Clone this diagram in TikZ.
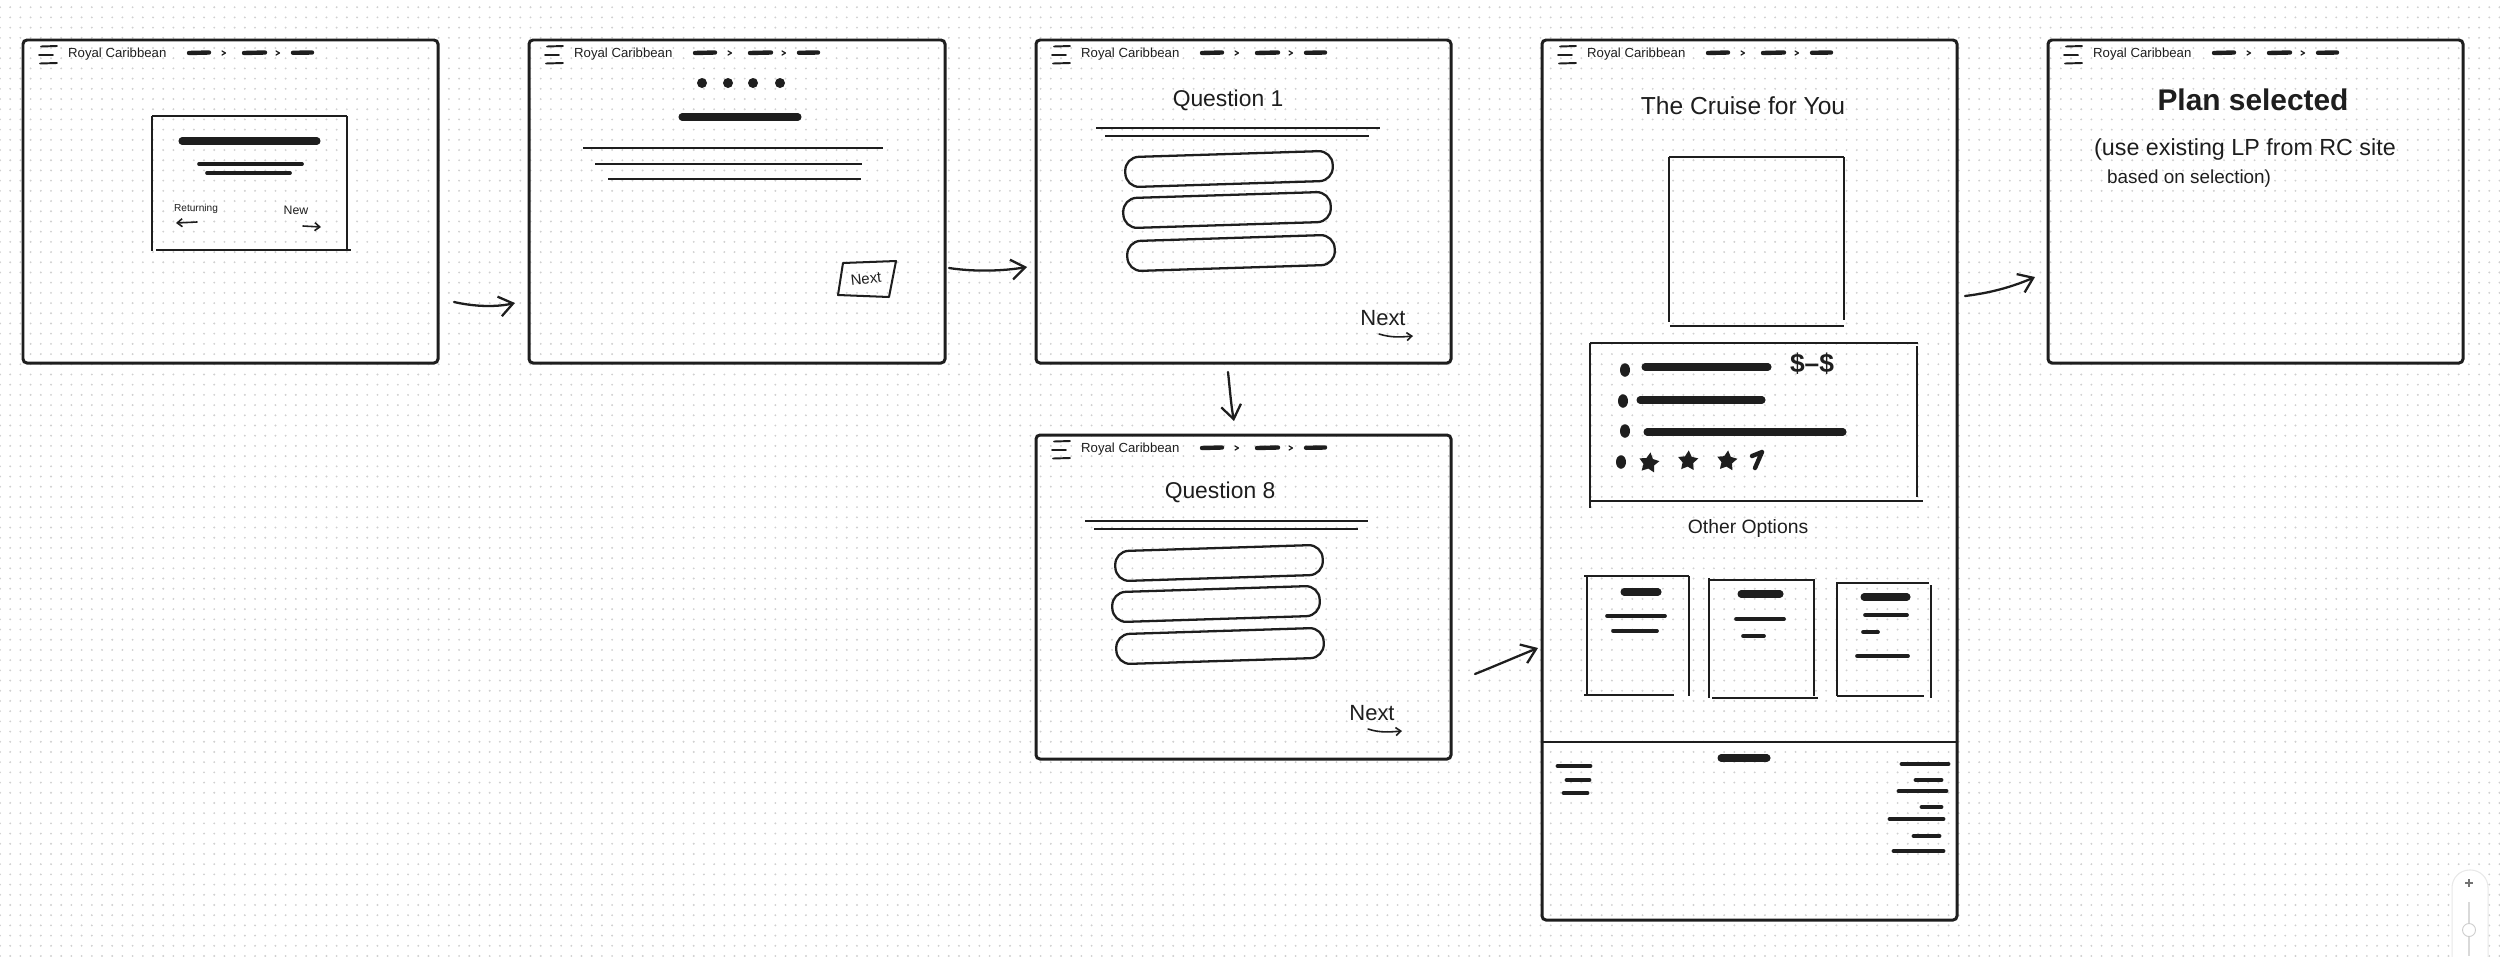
\documentclass[tikz,border=0pt]{standalone}
\usepackage{fontspec}
\setmainfont{Liberation Sans}
\usetikzlibrary{arrows.meta,patterns.meta,fit,shapes.geometric}
\definecolor{ink}{HTML}{1E1E1E}
\definecolor{dotc}{HTML}{D0D0D0}
\tikzset{
  frame/.style={draw=ink,line width=3.4pt,rounded corners=0.16cm,inner sep=0pt},
  thin/.style={draw=ink,line width=2.3pt},
  hair/.style={draw=ink,line width=1.9pt},
  bar/.style={draw=ink,line width=8pt,line cap=round},
  mbar/.style={draw=ink,line width=5.6pt,line cap=round},
  sbar/.style={draw=ink,line width=4.2pt,line cap=round},
  hdash/.style={draw=ink,line width=5pt,line cap=round},
  chev/.style={draw=ink,line width=1.4pt,line cap=round,line join=round},
  burger/.style={draw=ink,line width=2.2pt,line cap=round},
  pill/.style={draw=ink,line width=2.6pt,rounded corners=0.55cm,minimum width=8.3cm,minimum height=1.2cm,inner sep=0pt},
  hand/.style={inner sep=0pt,text=ink},
  flow/.style={draw=ink,line width=2.6pt,line cap=round,-{Straight Barb[length=0.55cm,width=0.8cm]}},
  tiny/.style={draw=ink,line width=1.8pt,line cap=round,-{Straight Barb[length=0.2cm,width=0.32cm]}},
  starnode/.style={star,star points=5,star point ratio=1.9,fill=ink,inner sep=0pt,minimum size=0.85cm},
}
\newcommand\rchead[3]{%
  \begin{scope}[shift={(#2,#3)}]
    \draw[burger] (18,6.5)--(34,6) (16,15)--(30,15) (17,23.5)--(34,23);
    \node[hand,anchor=west,font=\fontsize{15}{16}\selectfont] (#1-brand) at (45,14) {Royal Caribbean};
    \draw[hdash] (166,13)--(186,12.5) (221,13)--(242,12.5) (270,12.8)--(289,12.5);
    \draw[chev] (199,11)--(202.5,13)--(199,15) (253,11)--(256.5,13)--(253,15);
  \end{scope}}
\begin{document}
\begin{tikzpicture}[x=0.04cm,y=-0.04cm]
\useasboundingbox (0,0) rectangle (2500,956);
\fill[white] (0,0) rectangle (2500,956);
\fill[pattern={Dots[radius=1.2pt,distance=0.408cm]},pattern color=dotc] (0,0) rectangle (2500,956);

% ---------- frames ----------
\node[frame,fit={(23,40)(438,363)}] (f1) {};
\node[frame,fit={(529,40)(945,363)}] (f2) {};
\node[frame,fit={(1036,40)(1451,363)}] (f3) {};
\node[frame,fit={(1036,435)(1451,759)}] (f4) {};
\node[frame,fit={(1542,40)(1957,920)}] (f5) {};
\node[frame,fit={(2048,40)(2463,363)}] (f6) {};

\rchead{h1}{23}{40}
\rchead{h2}{529}{40}
\rchead{h3}{1036}{40}
\rchead{h4}{1036}{435}
\rchead{h5}{1542}{40}
\rchead{h6}{2048}{40}

% ---------- frame 1: welcome ----------
\draw[thin] (152,116)--(347,116) (152,116)--(152,251) (156,250)--(351,250) (347,116)--(347,250);
\draw[bar] (182,141)--(317,141);
\draw[sbar] (199,164)--(302,164) (207,173)--(290,173);
\node[hand,font=\fontsize{11.5}{12}\selectfont] (ret) at (196,209) {Returning};
\node[hand,font=\fontsize{14}{15}\selectfont] (new) at (296,210) {New};
\coordinate (retA) at (197,222);
\coordinate (retB) at (176,223);
\draw[tiny] (retA)--(retB);
\coordinate (newA) at (303,226);
\coordinate (newB) at (321,227);
\draw[tiny] (newA)--(newB);

% ---------- frame 2: intro ----------
\foreach \x in {702,728,753,780}{\fill[ink] (\x,83) circle (0.2cm);}
\draw[bar] (682,117)--(798,117);
\draw[hair] (583,148)--(883,148) (595,164)--(862,164) (608,179)--(861,179);
\draw[thin,line join=round] (843,263)--(896,261)--(889,297)--(838,295)--cycle;
\node[hand,rotate=6,font=\fontsize{17}{18}\selectfont] (next2) at (866,279) {Next};

% ---------- frame 3: question 1 ----------
\node[hand,font=\fontsize{26}{28}\selectfont] (q1) at (1228,100) {Question 1};
\draw[hair] (1096,128)--(1380,128) (1105,136)--(1369,136);
\node[pill,rotate=1.8] (q1a) at (1229,169) {};
\node[pill,rotate=1.8] (q1b) at (1227,210) {};
\node[pill,rotate=1.8] (q1c) at (1231,253) {};
\node[hand,font=\fontsize{25}{26}\selectfont] (next3) at (1383,318) {Next};
\coordinate (n3a) at (1379,334);
\coordinate (n3b) at (1413,336);
\draw[tiny] (n3a) .. controls (1392,338) and (1402,337) .. (n3b);

% ---------- frame 4: question 8 ----------
\node[hand,font=\fontsize{26}{28}\selectfont] (q8) at (1220,492) {Question 8};
\draw[hair] (1085,521)--(1368,521) (1094,529)--(1358,529);
\node[pill,rotate=1.8] (q8a) at (1219,563) {};
\node[pill,rotate=1.8] (q8b) at (1216,604) {};
\node[pill,rotate=1.8] (q8c) at (1220,646) {};
\node[hand,font=\fontsize{25}{26}\selectfont] (next4) at (1372,713) {Next};
\coordinate (n4a) at (1368,729);
\coordinate (n4b) at (1402,731);
\draw[tiny] (n4a) .. controls (1380,733) and (1390,732) .. (n4b);

% ---------- frame 5: result ----------
\node[hand,font=\fontsize{28}{30}\selectfont] (cruise) at (1743,106) {The Cruise for You};
\draw[thin] (1669,157)--(1844,157) (1669,157)--(1669,322) (1844,157)--(1844,320) (1670,326)--(1844,326);
\draw[thin] (1590,343)--(1918,343) (1590,343)--(1590,508) (1917,346)--(1917,497) (1590,501)--(1923,501);
\fill[ink] (1625,370) ellipse (0.2cm and 0.27cm);
\fill[ink] (1623,401) ellipse (0.2cm and 0.27cm);
\fill[ink] (1625,431) ellipse (0.2cm and 0.27cm);
\fill[ink] (1621,462) ellipse (0.2cm and 0.27cm);
\draw[bar] (1645,367)--(1768,367);
\draw[bar] (1640,400)--(1762,400);
\draw[bar] (1647,432)--(1843,432);
\node[hand,font=\bfseries\fontsize{30}{31}\selectfont] (price) at (1812,364) {\$--\$};
\node[starnode,rotate=-8] (st1) at (1649,463) {};
\node[starnode,rotate=-4] (st2) at (1688,461) {};
\node[starnode,rotate=-6] (st3) at (1727,461) {};
\draw[ink,line width=5pt,line cap=round] (1755,468)--(1762,452) (1752,456)--(1762,452);
\node[hand,font=\fontsize{22}{24}\selectfont] (other) at (1748,528) {Other Options};
% option cards
\draw[thin] (1584,576)--(1689,576) (1587,576)--(1587,695) (1584,695)--(1674,695) (1689,576)--(1689,696);
\draw[bar] (1624,592)--(1658,592);
\draw[sbar] (1607,616)--(1665,616) (1613,631)--(1657,631);
\draw[thin] (1708,580)--(1815,580) (1709,578)--(1709,698) (1814,580)--(1814,696) (1712,698)--(1818,698);
\draw[bar] (1741,594)--(1780,594);
\draw[sbar] (1736,619)--(1784,619) (1743,636)--(1764,636);
\draw[thin] (1836,583)--(1929,583) (1837,583)--(1837,696) (1931,585)--(1931,698) (1837,696)--(1924,696);
\draw[bar] (1864,597)--(1907,597);
\draw[sbar] (1865,615)--(1907,615) (1863,632)--(1878,632) (1857,656)--(1908,656);
% footer
\draw[ink,line width=3pt] (1542,742)--(1957,742);
\draw[bar] (1721,758)--(1767,758);
\draw[mbar] (1558,766)--(1590,766) (1567,780)--(1589,780) (1564,793)--(1587,793);
\draw[mbar] (1902,764)--(1948,764) (1916,780)--(1941,780) (1899,791)--(1946,791) (1922,807)--(1941,807)
  (1890,819)--(1943,819) (1914,836)--(1939,836) (1894,851)--(1943,851);

% ---------- frame 6: plan selected ----------
\node[hand,font=\bfseries\fontsize{34}{35}\selectfont] (plan) at (2253,100) {Plan selected};
\node[hand,anchor=west,font=\fontsize{26.5}{28}\selectfont] (note1) at (2094,149) {(use existing LP from RC site};
\node[hand,anchor=west,font=\fontsize{21.5}{23}\selectfont] (note2) at (2107,179) {based on selection)};

% ---------- flow arrows ----------
\coordinate (a1s) at (454,302); \coordinate (a1e) at (515,303);
\coordinate (a2s) at (949,268); \coordinate (a2e) at (1027,267);
\coordinate (a3s) at (1228,372); \coordinate (a3e) at (1234,421);
\coordinate (a4s) at (1475,674); \coordinate (a4e) at (1538,648);
\coordinate (a5s) at (1965,296); \coordinate (a5e) at (2035,277);
\draw[flow] (a1s) .. controls (476,307) and (497,307) .. (a1e);
\draw[flow] (a2s) .. controls (975,272) and (1003,271) .. (a2e);
\draw[flow] (a3s) .. controls (1230,390) and (1231,405) .. (a3e);
\draw[flow] (a4s) .. controls (1495,666) and (1518,656) .. (a4e);
\draw[flow] (a5s) .. controls (1990,293) and (2012,287) .. (a5e);

% ---------- zoom widget ----------
\begin{scope}
  \clip (0,0) rectangle (2500,956);
  \draw[black!9,line width=1.2pt,fill=white,rounded corners=0.7cm] (2452,870) rectangle (2488,990);
  \draw[black!55,line width=1.3pt] (2465,883)--(2473,883) (2469,879)--(2469,887);
  \draw[black!15,line width=2pt] (2469,902)--(2469,956);
  \draw[black!20,line width=1pt,fill=white] (2469,930) circle (0.26cm);
\end{scope}
\end{tikzpicture}
\end{document}
